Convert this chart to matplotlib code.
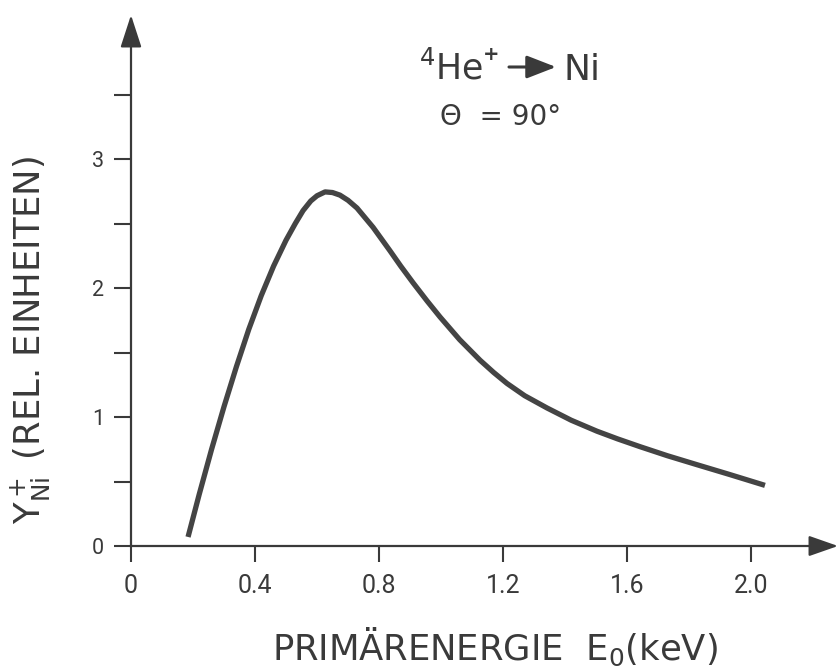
import matplotlib
matplotlib.use("Agg")
import matplotlib.pyplot as plt
from matplotlib.patches import FancyArrowPatch
from matplotlib.ticker import FixedLocator, FixedFormatter

plt.rcParams['font.family'] = ['DejaVu Sans']
plt.rcParams['mathtext.default'] = 'regular'

# Primary energy E0 (keV) and relative Ni+ yield
energy = [0.184, 0.22, 0.26, 0.30, 0.34, 0.38, 0.42, 0.46, 0.50,
          0.53, 0.555, 0.58, 0.60, 0.626, 0.65, 0.674, 0.70, 0.729, 0.781,
          0.835, 0.87, 0.91, 0.955, 0.997, 1.06, 1.126, 1.17, 1.213, 1.27,
          1.342, 1.42, 1.503, 1.57, 1.642, 1.73, 1.826, 1.93, 2.045]
yield_ni = [0.07, 0.40, 0.75, 1.08, 1.39, 1.68, 1.94, 2.17, 2.37,
            2.50, 2.60, 2.675, 2.715, 2.745, 2.74, 2.72, 2.68, 2.62, 2.47,
            2.29, 2.17, 2.04, 1.90, 1.775, 1.60, 1.44, 1.345, 1.26, 1.165,
            1.07, 0.975, 0.89, 0.83, 0.77, 0.70, 0.63, 0.555, 0.47]

x_ticks = [0, 0.4, 0.8, 1.2, 1.6, 2.0]
x_labels = ['0', '0.4', '0.8', '1.2', '1.6', '2.0']
y_ticks = [0, 0.5, 1, 1.5, 2, 2.5, 3, 3.5]
y_labels = ['0', '', '1', '', '2', '', '3', '']

INK = '#3a3a3a'
W, H = 838, 667

def fx(px):
    return px / W

def fy(py):
    return 1 - py / H

fig = plt.figure(figsize=(W / 100, H / 100), dpi=100)
fig.patch.set_facecolor('white')

# axes: origin at (131, 546) px, 310 px per keV, 129 px per unit
ax = fig.add_axes([fx(131), fy(546), (W - 131) / W, (546 - 15) / H])
x_max = (W - 131) / 310
y_max = (546 - 15) / 129
ax.set_xlim(0, x_max)
ax.set_ylim(0, y_max)
ax.patch.set_alpha(0)

for s in ['top', 'right']:
    ax.spines[s].set_visible(False)
for s in ['left', 'bottom']:
    ax.spines[s].set_color(INK)
    ax.spines[s].set_linewidth(1.6)
ax.spines['bottom'].set_bounds(0, (813 - 131) / 310)
ax.spines['left'].set_bounds(0, (546 - 43) / 129)

# arrow heads at the ends of both axes
ax.annotate('', xy=(x_max, 0), xytext=((813 - 131) / 310 - 0.01, 0),
            arrowprops=dict(arrowstyle='-|>,head_length=0.8,head_width=0.28',
                            mutation_scale=22.5, color=INK, lw=1.6,
                            shrinkA=0, shrinkB=0),
            annotation_clip=False)
ax.annotate('', xy=(0, y_max), xytext=(0, (546 - 43) / 129 - 0.02),
            arrowprops=dict(arrowstyle='-|>,head_length=0.8,head_width=0.26',
                            mutation_scale=25, color=INK, lw=1.6,
                            shrinkA=0, shrinkB=0),
            annotation_clip=False)

ax.xaxis.set_major_locator(FixedLocator(x_ticks))
ax.xaxis.set_major_formatter(FixedFormatter(x_labels))
ax.yaxis.set_major_locator(FixedLocator(y_ticks))
ax.yaxis.set_major_formatter(FixedFormatter(y_labels))
ax.tick_params(axis='x', direction='out', length=11.5, width=1.5, color=INK,
               pad=9, labelsize=18, labelcolor=INK, labelfontfamily='Roboto')
ax.tick_params(axis='y', direction='out', length=12.2, width=1.5, color=INK,
               pad=7, labelsize=15.5, labelcolor=INK, labelfontfamily='Roboto')

ax.plot(energy, yield_ni, color='#444444', lw=3.8,
        solid_capstyle='butt', solid_joinstyle='round', clip_on=False)

# axis titles
fig.text(fx(495), fy(660), 'PRIMÄRENERGIE  E$_0$(keV)', ha='center',
         va='baseline', fontsize=25.5, color=INK)
fig.text(fx(31), fy(340), 'Y$^+_{Ni}$ (REL. EINHEITEN)', ha='center',
         va='center', rotation=90, fontsize=25.5, color=INK)

# reaction label
fig.text(fx(483), fy(80), '$^4$He', ha='right', va='baseline',
         fontsize=25, color=INK)
fig.text(fx(483), fy(60), '+', ha='left', va='baseline',
         fontsize=14, fontweight='bold', color=INK)
fig.add_artist(FancyArrowPatch(
    (fx(509), fy(67)), (fx(556), fy(67)), transform=fig.transFigure,
    arrowstyle='-|>,head_length=0.9,head_width=0.35', mutation_scale=20,
    color=INK, lw=2.2, shrinkA=0, shrinkB=0))
fig.text(fx(563), fy(80), 'Ni', ha='left', va='baseline',
         fontsize=26, color=INK)
fig.text(fx(501), fy(125), 'Θ  = 90°', ha='center', va='baseline',
         fontsize=20, color=INK)

fig.savefig('out.png', dpi=100, facecolor='white')
